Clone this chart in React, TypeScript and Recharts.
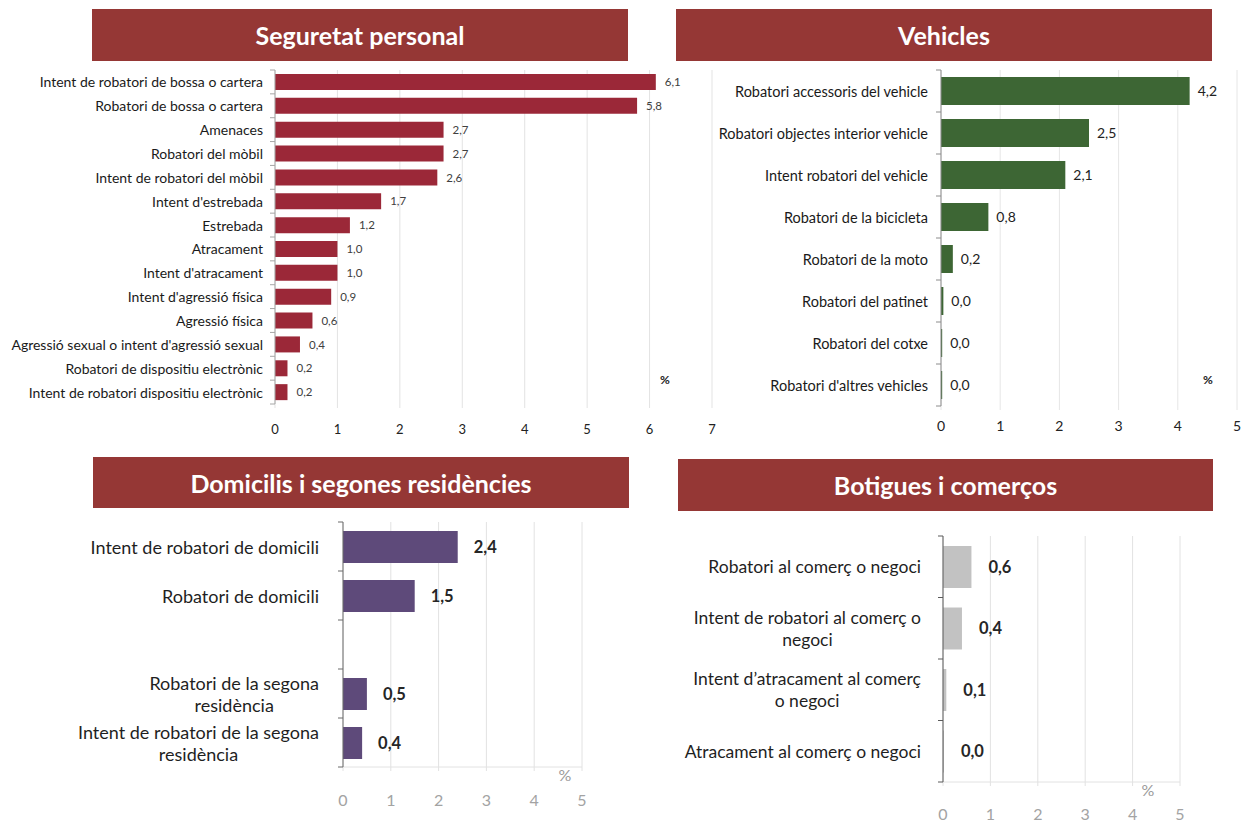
import React from 'react';
import { BarChart, Bar, XAxis, YAxis, CartesianGrid, LabelList } from 'recharts';

const FONT = 'Lato, "Open Sans", sans-serif';

// ---------- Data ----------
const seguretatTitle = 'Seguretat personal';
const seguretatCategories = [
  'Intent de robatori de bossa o cartera',
  'Robatori de bossa o cartera',
  'Amenaces',
  'Robatori del mòbil',
  'Intent de robatori del mòbil',
  "Intent d'estrebada",
  'Estrebada',
  'Atracament',
  "Intent d'atracament",
  "Intent d'agressió física",
  'Agressió física',
  "Agressió sexual o intent d'agressió sexual",
  'Robatori de dispositiu electrònic',
  'Intent de robatori dispositiu electrònic',
];
const seguretatValues = [6.1, 5.8, 2.7, 2.7, 2.6, 1.7, 1.2, 1.0, 1.0, 0.9, 0.6, 0.4, 0.2, 0.2];
const seguretatTicks = [0, 1, 2, 3, 4, 5, 6, 7];

const vehiclesTitle = 'Vehicles';
const vehiclesCategories = [
  'Robatori accessoris del vehicle',
  'Robatori objectes interior vehicle',
  'Intent robatori del vehicle',
  'Robatori de la bicicleta',
  'Robatori de la moto',
  'Robatori del patinet',
  'Robatori del cotxe',
  "Robatori d'altres vehicles",
];
const vehiclesValues = [4.2, 2.5, 2.1, 0.8, 0.2, 0.04, 0.02, 0.02];
const vehiclesTicks = [0, 1, 2, 3, 4, 5];

const domicilisTitle = 'Domicilis i segones residències';
const domicilisCategories = [
  'Intent de robatori de domicili',
  'Robatori de domicili',
  '',
  'Robatori de la segona\nresidència',
  'Intent de robatori de la segona\nresidència',
];
const domicilisValues: (number | null)[] = [2.4, 1.5, null, 0.5, 0.4];
const domicilisTicks = [0, 1, 2, 3, 4, 5];

const botiguesTitle = 'Botigues i comerços';
const botiguesCategories = [
  'Robatori al comerç o negoci',
  'Intent de robatori al comerç o\nnegoci',
  'Intent d’atracament al comerç\no negoci',
  'Atracament al comerç o negoci',
];
const botiguesValues = [0.6, 0.4, 0.07, 0.02];
const botiguesTicks = [0, 1, 2, 3, 4, 5];

// ---------- Helpers ----------
let measureCtx: CanvasRenderingContext2D | null = null;
function measure(text: string, font: string): number {
  if (!measureCtx) measureCtx = document.createElement('canvas').getContext('2d');
  if (!measureCtx) return text.length * 7;
  measureCtx.font = font;
  return measureCtx.measureText(text).width;
}

const fmt = (v: any) => (v === null || v === undefined ? '' : Number(v).toFixed(1).replace('.', ','));

type Cfg = {
  title: string;
  titleBox: { left: number; top: number; width: number; height: number };
  box: { left: number; top: number; width: number; height: number };
  plot: { left: number; right: number; top: number; bottom: number };
  categories: string[];
  values: (number | null)[];
  ticks: number[];
  color: string;
  barSize: number;
  catFont: number;
  catColor: string;
  catGap: number;
  lineHeight: number;
  axisColor: string;
  gridColor: string;
  xTickFont: number;
  xTickColor: string;
  xTickMargin: number;
  xAxisLine: boolean;
  valueFont: number;
  valueColor: string;
  valueWeight: number;
  valueOffset: number;
  pct: { x: number; y: number; font: number; color: string; weight: number };
};

const CategoryTick = (props: any) => {
  const { x, y, payload, index, cfg, band, count } = props;
  const lines = String(payload?.value ?? '').split('\n');
  const font = `${cfg.catFont}px ${FONT}`;
  const tx = x - cfg.catGap;
  let textEl: React.ReactNode;
  if (lines.length === 1) {
    textEl = (
      <text x={tx} y={y} textAnchor="end" dominantBaseline="central" fontSize={cfg.catFont} fontFamily={FONT} fill={cfg.catColor}>
        {lines[0]}
      </text>
    );
  } else {
    const maxW = Math.max(...lines.map((l) => measure(l, font)));
    const cx = tx - maxW / 2;
    textEl = (
      <text textAnchor="middle" fontSize={cfg.catFont} fontFamily={FONT} fill={cfg.catColor}>
        {lines.map((l, i) => (
          <tspan key={i} x={cx} y={y + (i - (lines.length - 1) / 2) * cfg.lineHeight} dominantBaseline="central">
            {l}
          </tspan>
        ))}
      </text>
    );
  }
  return (
    <g>
      <line x1={x - 5} x2={x} y1={y - band / 2} y2={y - band / 2} stroke={cfg.axisColor} />
      {index === count - 1 && <line x1={x - 5} x2={x} y1={y + band / 2} y2={y + band / 2} stroke={cfg.axisColor} />}
      {textEl}
    </g>
  );
};

const Panel = ({ cfg }: { cfg: Cfg }) => {
  const data = cfg.categories.map((name, i) => ({ name, value: cfg.values[i] }));
  const xAxisHeight = 30;
  const margin = {
    top: cfg.plot.top - cfg.box.top,
    right: cfg.box.left + cfg.box.width - cfg.plot.right,
    left: 0,
    bottom: cfg.box.top + cfg.box.height - cfg.plot.bottom - xAxisHeight,
  };
  const yWidth = cfg.plot.left - cfg.box.left;
  const band = (cfg.plot.bottom - cfg.plot.top) / cfg.categories.length;
  const max = cfg.ticks[cfg.ticks.length - 1];
  return (
    <>
      <div
        style={{
          position: 'absolute',
          left: cfg.titleBox.left,
          top: cfg.titleBox.top,
          width: cfg.titleBox.width,
          height: cfg.titleBox.height,
          background: '#953735',
          color: '#ffffff',
          fontFamily: FONT,
          fontWeight: 700,
          fontSize: 25,
          display: 'flex',
          alignItems: 'center',
          justifyContent: 'center',
        }}
      >
        {cfg.title}
      </div>
      <div
        style={{
          position: 'absolute',
          left: cfg.box.left,
          top: cfg.box.top,
          width: cfg.box.width,
          height: cfg.box.height,
        }}
      >
        <BarChart layout="vertical" width={cfg.box.width} height={cfg.box.height} data={data} margin={margin}>
          <CartesianGrid horizontal={false} stroke={cfg.gridColor} />
          <XAxis
            type="number"
            domain={[0, max]}
            ticks={cfg.ticks}
            interval={0}
            height={xAxisHeight}
            axisLine={cfg.xAxisLine ? { stroke: cfg.gridColor } : false}
            tickLine={{ stroke: cfg.gridColor }}
            tickSize={4}
            tickMargin={cfg.xTickMargin}
            tick={{ fontSize: cfg.xTickFont, fill: cfg.xTickColor, fontFamily: FONT }}
          />
          <YAxis
            type="category"
            dataKey="name"
            width={yWidth}
            interval={0}
            axisLine={{ stroke: cfg.axisColor }}
            tickLine={false}
            tickSize={0}
            tickMargin={0}
            tick={(p: any) => <CategoryTick {...p} cfg={cfg} band={band} count={cfg.categories.length} />}
          />
          <Bar dataKey="value" fill={cfg.color} barSize={cfg.barSize} isAnimationActive={false}>
            <LabelList
              dataKey="value"
              position="right"
              offset={cfg.valueOffset}
              formatter={fmt}
              fill={cfg.valueColor}
              fontSize={cfg.valueFont}
              fontFamily={FONT}
              fontWeight={cfg.valueWeight}
            />
          </Bar>
        </BarChart>
      </div>
      <div
        style={{
          position: 'absolute',
          left: cfg.pct.x - 20,
          top: cfg.pct.y - 10,
          width: 40,
          height: 20,
          lineHeight: '20px',
          textAlign: 'center',
          fontFamily: FONT,
          fontSize: cfg.pct.font,
          fontWeight: cfg.pct.weight,
          color: cfg.pct.color,
        }}
      >
        %
      </div>
    </>
  );
};

const seguretatCfg: Cfg = {
  title: seguretatTitle,
  titleBox: { left: 92, top: 9, width: 536, height: 52 },
  box: { left: 0, top: 0, width: 722, height: 450 },
  plot: { left: 275, right: 712, top: 70, bottom: 404 },
  categories: seguretatCategories,
  values: seguretatValues,
  ticks: seguretatTicks,
  color: '#9B2838',
  barSize: 16,
  catFont: 14,
  catColor: '#1a1a1a',
  catGap: 12,
  lineHeight: 16,
  axisColor: '#a6a6a6',
  gridColor: '#e3e3e3',
  xTickFont: 13,
  xTickColor: '#222222',
  xTickMargin: 17,
  xAxisLine: false,
  valueFont: 11.5,
  valueColor: '#404040',
  valueWeight: 400,
  valueOffset: 9,
  pct: { x: 665, y: 380, font: 12, color: '#222222', weight: 700 },
};

const vehiclesCfg: Cfg = {
  title: vehiclesTitle,
  titleBox: { left: 676, top: 9, width: 536, height: 52 },
  box: { left: 690, top: 0, width: 561, height: 450 },
  plot: { left: 941, right: 1237, top: 70, bottom: 406 },
  categories: vehiclesCategories,
  values: vehiclesValues,
  ticks: vehiclesTicks,
  color: '#3D6634',
  barSize: 28,
  catFont: 14.5,
  catColor: '#1a1a1a',
  catGap: 13,
  lineHeight: 17,
  axisColor: '#8c8c8c',
  gridColor: '#e6e6e6',
  xTickFont: 14,
  xTickColor: '#222222',
  xTickMargin: 11,
  xAxisLine: false,
  valueFont: 14,
  valueColor: '#222222',
  valueWeight: 400,
  valueOffset: 8,
  pct: { x: 1208, y: 380, font: 12, color: '#222222', weight: 700 },
};

const domicilisCfg: Cfg = {
  title: domicilisTitle,
  titleBox: { left: 93, top: 457, width: 536, height: 51 },
  box: { left: 0, top: 450, width: 640, height: 374 },
  plot: { left: 343, right: 582, top: 522, bottom: 767 },
  categories: domicilisCategories,
  values: domicilisValues,
  ticks: domicilisTicks,
  color: '#5E4A7A',
  barSize: 32,
  catFont: 18,
  catColor: '#1f1f1f',
  catGap: 24,
  lineHeight: 22,
  axisColor: '#6b6b6b',
  gridColor: '#e2e2e2',
  xTickFont: 16,
  xTickColor: '#a3a3a3',
  xTickMargin: 24,
  xAxisLine: true,
  valueFont: 16.5,
  valueColor: '#262626',
  valueWeight: 700,
  valueOffset: 16,
  pct: { x: 565, y: 775, font: 16, color: '#9a9a9a', weight: 400 },
};

const botiguesCfg: Cfg = {
  title: botiguesTitle,
  titleBox: { left: 678, top: 459, width: 535, height: 52 },
  box: { left: 640, top: 450, width: 611, height: 374 },
  plot: { left: 943, right: 1180, top: 536, bottom: 782 },
  categories: botiguesCategories,
  values: botiguesValues,
  ticks: botiguesTicks,
  color: '#C2C2C2',
  barSize: 42,
  catFont: 17.5,
  catColor: '#1f1f1f',
  catGap: 22,
  lineHeight: 22,
  axisColor: '#5a5a5a',
  gridColor: '#e2e2e2',
  xTickFont: 16,
  xTickColor: '#a3a3a3',
  xTickMargin: 23,
  xAxisLine: true,
  valueFont: 16.5,
  valueColor: '#262626',
  valueWeight: 700,
  valueOffset: 17,
  pct: { x: 1148, y: 790, font: 16, color: '#9a9a9a', weight: 400 },
};

export default function App() {
  return (
    <div style={{ position: 'absolute', left: 0, top: 0, width: 1251, height: 824, background: '#ffffff', overflow: 'hidden' }}>
      <Panel cfg={seguretatCfg} />
      <Panel cfg={vehiclesCfg} />
      <Panel cfg={domicilisCfg} />
      <Panel cfg={botiguesCfg} />
    </div>
  );
}
